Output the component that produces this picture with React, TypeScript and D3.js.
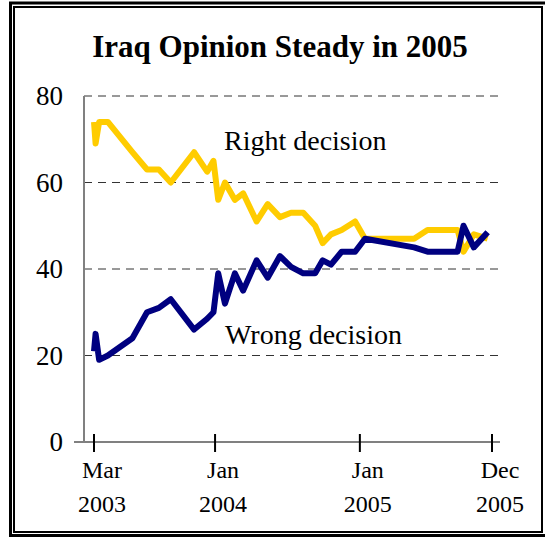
import * as d3 from 'd3';
import React from 'react';

// poll dates and the two series
const pollDates = [
  '2003-03-01', '2003-03-05', '2003-03-14', '2003-04-05', '2003-06-06',
  '2003-07-13', '2003-08-12', '2003-09-11', '2003-11-09', '2003-12-12',
  '2003-12-28', '2004-01-09', '2004-01-26', '2004-02-20', '2004-03-12',
  '2004-04-15', '2004-05-13', '2004-06-13', '2004-07-11', '2004-08-11',
  '2004-09-10', '2004-09-29', '2004-10-20', '2004-11-16', '2004-12-20',
  '2005-01-14', '2005-05-18', '2005-06-21', '2005-09-05', '2005-09-20',
  '2005-10-16', '2005-11-20',
];
const rightDecision = [
  74, 69, 74, 74, 67, 63, 63, 60, 67, 62.5, 65, 56, 60, 56, 57.5, 51, 55,
  52, 53, 53, 50, 46, 48, 49, 51, 47, 47, 49, 49, 44, 48, 47,
];
const wrongDecision = [
  21, 25, 19, 20, 24, 30, 31, 33, 26, 28.5, 30, 39, 32, 39, 35, 42, 38, 43,
  40.5, 39, 39, 42, 41, 44, 44, 47, 45, 44, 44, 50, 45, 48.5,
];
const yTicks = [0, 20, 40, 60, 80];
const xTicks = [
  { date: '2003-03-01', month: 'Mar', year: '2003' },
  { date: '2004-01-01', month: 'Jan', year: '2004' },
  { date: '2005-01-01', month: 'Jan', year: '2005' },
  { date: '2005-12-01', month: 'Dec', year: '2005' },
];

const W = 545;
const H = 537;
const serif = "'Liberation Serif', 'Times New Roman', serif";
const parse = d3.timeParse('%Y-%m-%d');

export default function App() {
  const dates = pollDates.map((d) => parse(d) as Date);

  const x = d3
    .scaleTime()
    .domain([parse('2003-03-01') as Date, parse('2005-12-01') as Date])
    .range([94, 492]);
  const y = d3.scaleLinear().domain([0, 80]).range([442, 96]);

  const line = d3
    .line<number>()
    .x((_, i) => x(dates[i]))
    .y((v) => y(v));

  return (
    <svg
      width={W}
      height={H}
      style={{ position: 'fixed', left: 0, top: 0, background: '#fff' }}
    >
      {/* double frame */}
      <rect x={10.5} y={3} width={540} height={532.5} fill="none" stroke="#000" strokeWidth={3} />
      <rect x={14} y={7} width={528} height={525} fill="none" stroke="#000" strokeWidth={2} />

      <text
        x={280}
        y={57}
        textAnchor="middle"
        fontFamily={serif}
        fontWeight="bold"
        fontSize={31}
      >
        Iraq Opinion Steady in 2005
      </text>

      {/* gridlines */}
      {yTicks
        .filter((t) => t > 0)
        .map((t) => (
          <line
            key={t}
            x1={84}
            x2={498}
            y1={y(t)}
            y2={y(t)}
            stroke="#333"
            strokeWidth={1}
            strokeDasharray="8,6"
          />
        ))}

      {/* axes */}
      <line x1={84} x2={84} y1={y(80)} y2={y(0)} stroke="#808080" strokeWidth={2} />
      <line x1={74} x2={500} y1={y(0)} y2={y(0)} stroke="#808080" strokeWidth={2} />

      {yTicks.map((t) => (
        <text
          key={t}
          x={63}
          y={y(t)}
          dy="0.35em"
          textAnchor="end"
          fontFamily={serif}
          fontSize={27}
        >
          {t}
        </text>
      ))}

      {xTicks.map((t) => {
        const xp = x(parse(t.date) as Date);
        return (
          <g key={t.date}>
            <line x1={xp} x2={xp} y1={434} y2={452} stroke="#000" strokeWidth={2} />
            <text x={xp + 8} y={478} textAnchor="middle" fontFamily={serif} fontSize={24}>
              {t.month}
            </text>
            <text x={xp + 8} y={512} textAnchor="middle" fontFamily={serif} fontSize={24}>
              {t.year}
            </text>
          </g>
        );
      })}

      <path
        d={line(rightDecision) || ''}
        fill="none"
        stroke="#FFCC00"
        strokeWidth={6}
        strokeLinejoin="round"
      />
      <path
        d={line(wrongDecision) || ''}
        fill="none"
        stroke="#000080"
        strokeWidth={6}
        strokeLinejoin="round"
      />

      <text x={224} y={150} fontFamily={serif} fontSize={28}>
        Right decision
      </text>
      <text x={225} y={344} fontFamily={serif} fontSize={28}>
        Wrong decision
      </text>
    </svg>
  );
}
